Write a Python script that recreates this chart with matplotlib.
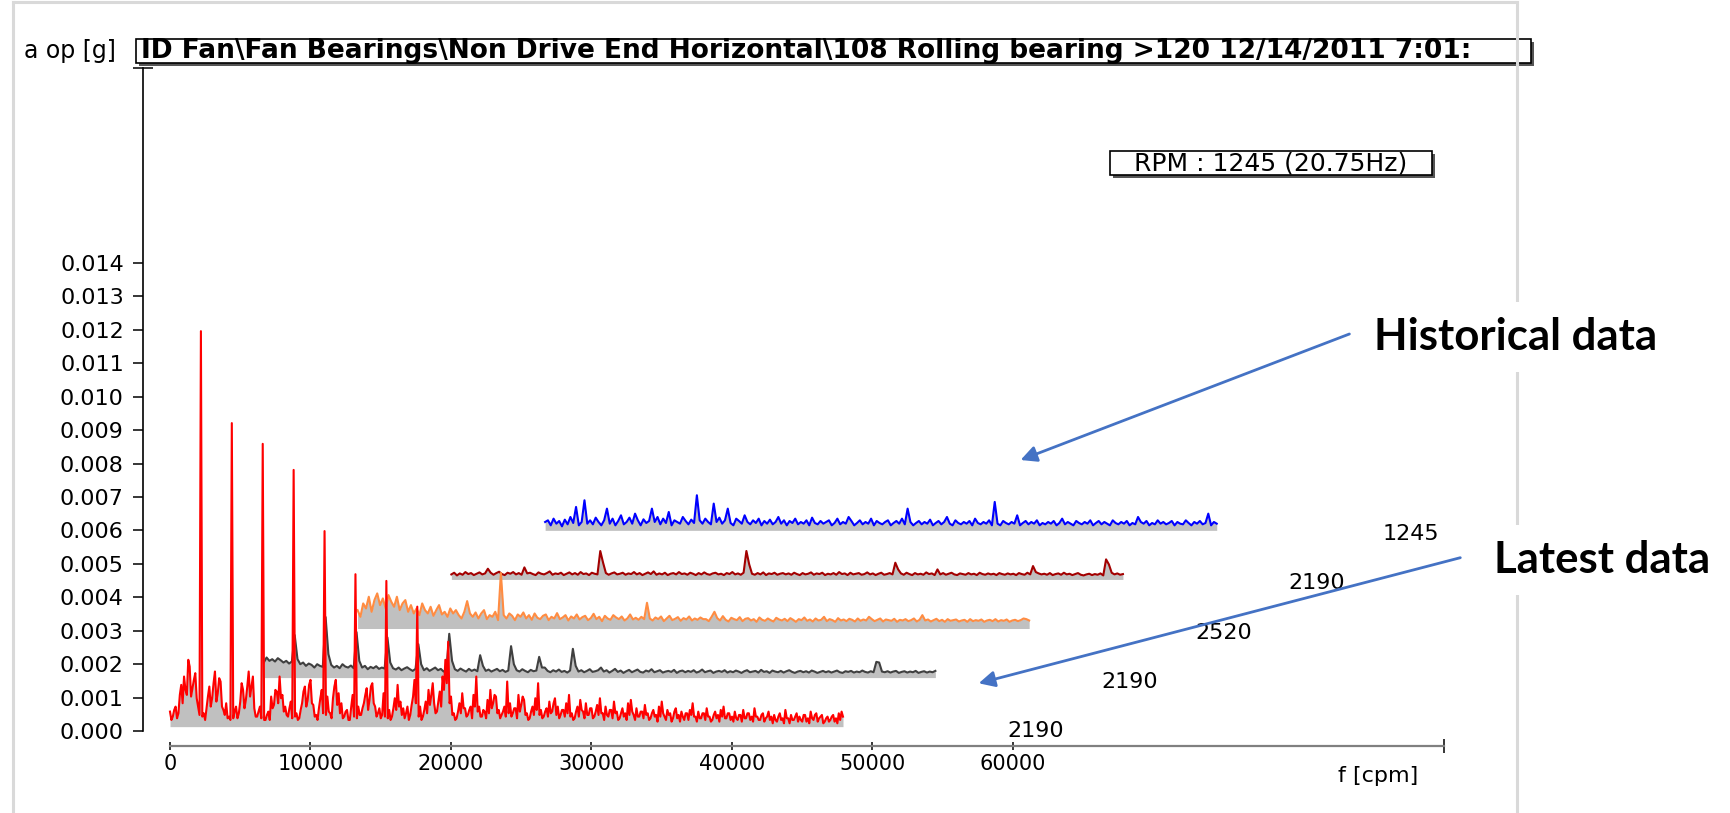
import numpy as np
import matplotlib.pyplot as plt
from matplotlib.patches import Rectangle, FancyArrowPatch
from matplotlib.lines import Line2D

plt.rcParams['font.family'] = ['DejaVu Sans']

# spectra, amplitude above each trace's own floor, in 1e-5 g
# red (latest) is read every 100 cpm, the older ones every 200 cpm
red_step = 100
red_amp = [
    45, 20, 30, 50, 60, 25, 40, 95, 125, 70, 150, 110, 95, 200, 180, 90, 115, 140, 160, 85,
    60, 35, 1183, 30, 40, 20, 55, 90, 120, 60, 85, 130, 165, 75, 100, 145, 135, 60, 50, 35,
    70, 25, 30, 20, 908, 25, 45, 60, 25, 40, 75, 130, 110, 55, 80, 120, 165, 90, 120, 150,
    55, 30, 30, 45, 60, 25, 846, 20, 20, 35, 45, 20, 90, 55, 65, 110, 105, 70, 150, 85,
    95, 45, 60, 35, 30, 55, 75, 25, 768, 30, 40, 20, 25, 50, 70, 105, 120, 60, 80, 125,
    140, 70, 65, 30, 35, 20, 55, 85, 110, 40, 585, 35, 90, 45, 40, 25, 85, 120, 140, 65,
    100, 40, 70, 25, 30, 45, 50, 20, 20, 60, 95, 30, 456, 25, 60, 35, 35, 55, 70, 95,
    115, 50, 80, 120, 130, 70, 60, 30, 40, 55, 25, 35, 100, 30, 436, 25, 50, 20, 30, 55,
    85, 50, 125, 60, 75, 35, 55, 25, 40, 60, 20, 35, 65, 90, 140, 70, 359, 30, 60, 20,
    30, 50, 75, 40, 110, 65, 95, 130, 70, 40, 45, 75, 105, 60, 150, 110, 200, 130, 254, 70,
    90, 35, 40, 20, 25, 45, 70, 40, 100, 55, 55, 30, 35, 50, 60, 25, 95, 60, 150, 45,
    60, 30, 30, 50, 45, 25, 80, 40, 110, 55, 70, 95, 90, 40, 50, 25, 35, 45, 60, 30,
    135, 40, 70, 30, 40, 55, 55, 25, 95, 45, 65, 90, 80, 35, 40, 20, 25, 45, 60, 35,
    85, 50, 130, 35, 50, 25, 30, 45, 55, 30, 75, 40, 45, 70, 85, 35, 60, 25, 35, 50,
    50, 30, 70, 40, 95, 30, 40, 20, 25, 45, 60, 30, 80, 50, 45, 25, 70, 35, 35, 55,
    55, 25, 30, 45, 65, 35, 85, 40, 40, 20, 60, 35, 30, 50, 50, 25, 75, 40, 45, 20,
    25, 40, 55, 30, 40, 20, 70, 35, 80, 45, 35, 20, 55, 30, 30, 45, 45, 25, 65, 35,
    40, 20, 25, 40, 50, 30, 35, 15, 60, 30, 75, 40, 30, 20, 50, 35, 40, 15, 25, 45,
    55, 25, 35, 15, 45, 30, 20, 40, 40, 20, 50, 35, 70, 30, 30, 15, 45, 25, 25, 40,
    40, 20, 55, 30, 30, 15, 20, 35, 45, 25, 35, 15, 50, 30, 60, 25, 25, 40, 40, 20,
    30, 15, 45, 25, 20, 35, 35, 15, 50, 25, 25, 40, 40, 20, 30, 15, 55, 30, 30, 20,
    20, 35, 40, 15, 25, 30, 45, 20, 30, 10, 35, 20, 15, 30, 40, 20, 25, 10, 50, 25,
    25, 10, 35, 20, 20, 30, 40, 15, 30, 20, 15, 35, 35, 15, 25, 10, 45, 25, 20, 35,
    40, 15, 25, 30, 35, 10, 15, 25, 30, 15, 20, 30, 35, 15, 25, 10, 40, 20, 45, 30,
]
step = 200
gray_amp = [
    45, 60, 50, 55, 48, 58, 52, 45, 50, 42, 48, 127, 55, 40, 45, 35, 42, 38, 30, 40,
    35, 32, 181, 70, 38, 30, 35, 28, 40, 33, 30, 36, 28, 136, 50, 30, 35, 25, 32, 28,
    34, 26, 30, 27, 120, 45, 28, 24, 30, 22, 27, 31, 25, 20, 26, 100, 40, 22, 28, 20,
    25, 30, 22, 26, 18, 24, 131, 50, 25, 20, 27, 22, 18, 26, 20, 24, 19, 67, 35, 20,
    24, 18, 22, 26, 19, 23, 17, 21, 94, 40, 22, 18, 25, 20, 16, 23, 19, 21, 62, 30,
    30, 20, 16, 22, 18, 24, 17, 20, 15, 21, 86, 35, 18, 22, 16, 20, 25, 17, 19, 22,
    30, 18, 22, 15, 20, 26, 17, 21, 14, 19, 23, 16, 20, 24, 17, 15, 21, 18, 25, 16,
    19, 22, 15, 18, 20, 17, 23, 14, 19, 21, 16, 20, 17, 22, 15, 18, 24, 16, 19, 21,
    14, 18, 20, 17, 22, 15, 19, 16, 21, 18, 14, 19, 22, 16, 18, 20, 15, 23, 17, 19,
    14, 21, 18, 16, 20, 15, 19, 22, 17, 14, 18, 20, 16, 19, 15, 21, 18, 14, 17, 20,
    16, 19, 15, 18, 21, 16, 14, 19, 17, 20, 15, 18, 16, 21, 17, 15, 19, 16, 47, 45,
    18, 16, 19, 15, 18, 20, 14, 17, 19, 15, 18, 16, 20, 14, 17, 19, 15, 18, 16, 20,
]
orange_amp = [
    55, 35, 75, 60, 95, 50, 85, 105, 70, 90, 60, 100, 80, 65, 95, 55, 75, 85, 50, 70,
    45, 60, 40, 75, 55, 45, 65, 38, 55, 70, 42, 50, 35, 60, 45, 55, 40, 30, 50, 82,
    45, 35, 48, 30, 45, 55, 28, 40, 35, 50, 25, 166, 40, 30, 45, 38, 25, 42, 35, 48,
    30, 40, 26, 45, 32, 28, 38, 42, 25, 35, 30, 46, 28, 33, 40, 24, 36, 30, 42, 27,
    34, 38, 25, 31, 44, 28, 35, 22, 38, 30, 26, 40, 33, 28, 36, 24, 30, 42, 27, 32,
    26, 35, 28, 77, 30, 24, 33, 28, 36, 22, 30, 38, 25, 29, 34, 23, 31, 27, 36, 24,
    30, 26, 33, 28, 28, 22, 35, 50, 31, 24, 37, 26, 21, 32, 28, 25, 34, 22, 29, 31,
    24, 28, 20, 33, 26, 23, 30, 25, 21, 32, 27, 24, 29, 22, 31, 26, 20, 28, 25, 33,
    23, 27, 21, 30, 24, 26, 35, 22, 28, 25, 20, 31, 24, 27, 22, 29, 26, 21, 30, 23,
    27, 24, 35, 28, 22, 26, 30, 21, 27, 25, 23, 29, 20, 26, 24, 28, 22, 25, 30, 21,
    26, 40, 24, 27, 21, 25, 29, 22, 26, 20, 28, 23, 25, 27, 21, 24, 26, 20, 28, 22,
    25, 23, 27, 20, 24, 26, 22, 28, 21, 25, 23, 27, 20, 24, 26, 22, 25, 30, 28, 24,
]
darkred_amp = [
    15, 20, 12, 18, 14, 22, 16, 19, 13, 17, 21, 15, 18, 32, 20, 14, 19, 23, 16, 13,
    20, 17, 22, 15, 19, 14, 36, 18, 20, 16, 13, 21, 17, 15, 19, 24, 14, 18, 16, 20,
    13, 17, 21, 15, 19, 14, 22, 16, 18, 13, 20, 17, 15, 85, 50, 19, 14, 18, 21, 15,
    17, 20, 14, 18, 16, 22, 15, 19, 13, 17, 21, 16, 24, 14, 18, 15, 20, 13, 17, 19,
    15, 22, 16, 18, 14, 20, 17, 13, 19, 15, 21, 16, 14, 18, 20, 15, 17, 13, 19, 16,
    22, 15, 18, 14, 20, 85, 45, 17, 14, 19, 15, 21, 13, 18, 16, 20, 14, 17, 19, 15,
    18, 14, 20, 16, 13, 19, 15, 17, 21, 14, 18, 16, 20, 13, 17, 15, 19, 14, 22, 16,
    18, 13, 20, 15, 17, 19, 14, 16, 21, 15, 18, 13, 17, 20, 14, 16, 19, 15, 50, 30,
    18, 14, 20, 16, 13, 19, 15, 17, 14, 21, 16, 18, 13, 30, 15, 19, 14, 17, 20, 15,
    13, 18, 16, 14, 19, 15, 17, 13, 20, 16, 14, 18, 15, 17, 13, 19, 16, 14, 18, 15,
    17, 13, 19, 16, 14, 20, 15, 40, 22, 18, 15, 17, 14, 19, 13, 16, 18, 14, 20, 15,
    17, 13, 16, 19, 14, 12, 15, 17, 13, 16, 14, 18, 12, 60, 45, 20, 15, 18, 14, 16,
]
blue_amp = [
    25, 30, 15, 35, 20, 28, 12, 32, 18, 40, 22, 70, 15, 25, 90, 20, 30, 18, 38, 25,
    15, 30, 65, 20, 35, 15, 28, 45, 18, 25, 38, 20, 50, 30, 15, 33, 22, 28, 65, 25,
    40, 18, 35, 22, 55, 15, 30, 25, 20, 40, 28, 18, 32, 22, 105, 30, 20, 35, 25, 18,
    80, 25, 38, 20, 30, 65, 22, 15, 35, 28, 20, 45, 25, 18, 30, 22, 35, 15, 28, 20,
    32, 18, 25, 40, 20, 30, 15, 28, 22, 35, 18, 25, 20, 30, 15, 38, 22, 18, 28, 20,
    25, 30, 15, 22, 35, 18, 25, 20, 40, 28, 15, 22, 30, 18, 25, 20, 35, 15, 28, 22,
    18, 25, 30, 15, 22, 28, 20, 35, 18, 65, 25, 15, 22, 28, 18, 25, 20, 32, 15, 22,
    28, 18, 25, 40, 20, 15, 30, 22, 18, 25, 20, 28, 15, 35, 22, 18, 25, 20, 30, 15,
    85, 20, 15, 28, 22, 18, 25, 20, 45, 15, 22, 28, 18, 25, 20, 30, 15, 22, 18, 25,
    20, 28, 15, 22, 35, 18, 25, 20, 15, 28, 22, 18, 25, 20, 30, 15, 22, 28, 18, 25,
    20, 15, 30, 22, 18, 25, 20, 28, 15, 22, 18, 40, 25, 20, 28, 15, 22, 18, 30, 20,
    25, 18, 22, 28, 15, 25, 20, 18, 30, 22, 15, 25, 20, 28, 18, 22, 50, 15, 25, 20,
]

# front (latest) to back (oldest)
spectra = [red_amp, gray_amp, orange_amp, darkred_amp, blue_amp]
steps = [red_step, step, step, step, step]
trace_rpm = ['2190', '2190', '2520', '2190', '1245']
colors = ['#ff0000', '#404040', '#ff8c42', '#a30000', '#0000ff']
widths = [1.5, 1.5, 1.5, 1.5, 1.5]

title = r'ID Fan\Fan Bearings\Non Drive End Horizontal\108 Rolling bearing >120 12/14/2011 7:01:'
rpm_text = 'RPM : 1245 (20.75Hz)'
xticks = [0, 10000, 20000, 30000, 40000, 50000, 60000]
yticks = np.arange(0, 0.0145, 0.001)

W, H = 1731, 813
def fx(x):
    return x / W
def fy(y):
    return 1 - y / H

fig = plt.figure(figsize=(W / 100, H / 100), dpi=100)
ax = fig.add_axes([fx(143.5), fy(741), (1446 - 143.5) / W, (741 - 68) / H])
ax.set_xlim(-1886, 90819)
ytop = 0.019832
ax.set_ylim(-0.000299, ytop)

dx, dy, y0 = 6675, 0.001468, 0.00013
for k in reversed(range(len(spectra))):
    amp = np.array(spectra[k]) * 1e-5
    xo = k * dx
    base = y0 + k * dy
    f = np.arange(len(amp)) * steps[k] + xo
    ax.fill_between(f, base, base + amp, color='#c0c0c0', lw=0, zorder=10 - 2 * k)
    ax.plot(f, base + amp, color=colors[k], lw=widths[k], zorder=11 - 2 * k)
    ax.text(xo + 59600, base - 0.00012, trace_rpm[k], fontsize=16, ha='left',
            va='center', clip_on=True, zorder=20)

for s in ['top', 'right']:
    ax.spines[s].set_visible(False)
ax.spines['left'].set_bounds(0, ytop)
ax.spines['left'].set_linewidth(1.2)
ax.spines['bottom'].set_position(('outward', 3.6))
ax.spines['bottom'].set_bounds(0, 90700)
ax.spines['bottom'].set_color('#808080')
ax.spines['bottom'].set_linewidth(1.6)

ax.set_yticks(yticks)
ax.set_yticklabels([f'{v:.3f}' for v in yticks])
ax.set_yticks([0, ytop], minor=True)
ax.tick_params(axis='y', which='major', direction='out', length=7.2, width=1.1, pad=7, labelsize=16)
ax.tick_params(axis='y', which='minor', direction='inout', length=14, width=1.1)
ax.set_xticks(xticks)
ax.set_xticklabels([str(v) for v in xticks])
ax.set_xticks([90700], minor=True)
ax.tick_params(axis='x', which='major', direction='inout', length=6, width=1.1, pad=3, labelsize=15)
ax.tick_params(axis='x', which='minor', direction='inout', length=10, width=1.1)

fig.text(fx(1378), fy(776), 'f [cpm]', fontsize=16, ha='center', va='center')
fig.text(fx(24), fy(51), 'a op [g]', fontsize=17, ha='left', va='center')

# header box with shadow
fig.add_artist(Rectangle((fx(139), fy(66)), 1395 / W, 24 / H, transform=fig.transFigure,
                         facecolor='#555555', edgecolor='none'))
fig.add_artist(Rectangle((fx(136), fy(63)), 1395 / W, 24 / H, transform=fig.transFigure,
                         facecolor='white', edgecolor='black', lw=1.2))
fig.text(fx(141), fy(51.5), title, fontsize=19, fontweight='bold', ha='left', va='center')

fig.add_artist(Rectangle((fx(1113), fy(178)), 322 / W, 24 / H, transform=fig.transFigure,
                         facecolor='#555555', edgecolor='none'))
fig.add_artist(Rectangle((fx(1110), fy(175)), 322 / W, 24 / H, transform=fig.transFigure,
                         facecolor='white', edgecolor='black', lw=1.2))
fig.text(fx(1271), fy(163.5), rpm_text, fontsize=18, ha='center', va='center')

# light frame round the screenshot
frame = dict(color='#d9d9d9', lw=2.2, transform=fig.transFigure)
fig.add_artist(Line2D([fx(13), fx(13)], [fy(2), fy(813)], **frame))
fig.add_artist(Line2D([fx(1517), fx(1517)], [fy(2), fy(813)], **frame))
fig.add_artist(Line2D([fx(13), fx(1517)], [fy(2), fy(2)], **frame))

# callouts
arrow_kw = dict(arrowstyle='-|>', mutation_scale=24, color='#4472c4', lw=2,
                transform=fig.transFigure)
fig.add_artist(FancyArrowPatch((fx(1352), fy(333)), (fx(1018), fy(461)), **arrow_kw))
fig.add_artist(FancyArrowPatch((fx(1463), fy(557)), (fx(976), fy(684)), **arrow_kw))
box = dict(boxstyle='square', fc='white', ec='none', pad=0.35)
fig.text(fx(1374), fy(337), 'Historical data', fontsize=31.5, fontweight='bold',
         family=['Lato', 'DejaVu Sans'], ha='left', va='center', bbox=box)
fig.text(fx(1494), fy(560), 'Latest data', fontsize=31.5, fontweight='bold',
         family=['Lato', 'DejaVu Sans'], ha='left', va='center', bbox=box)

fig.savefig('out.png', dpi=100)
